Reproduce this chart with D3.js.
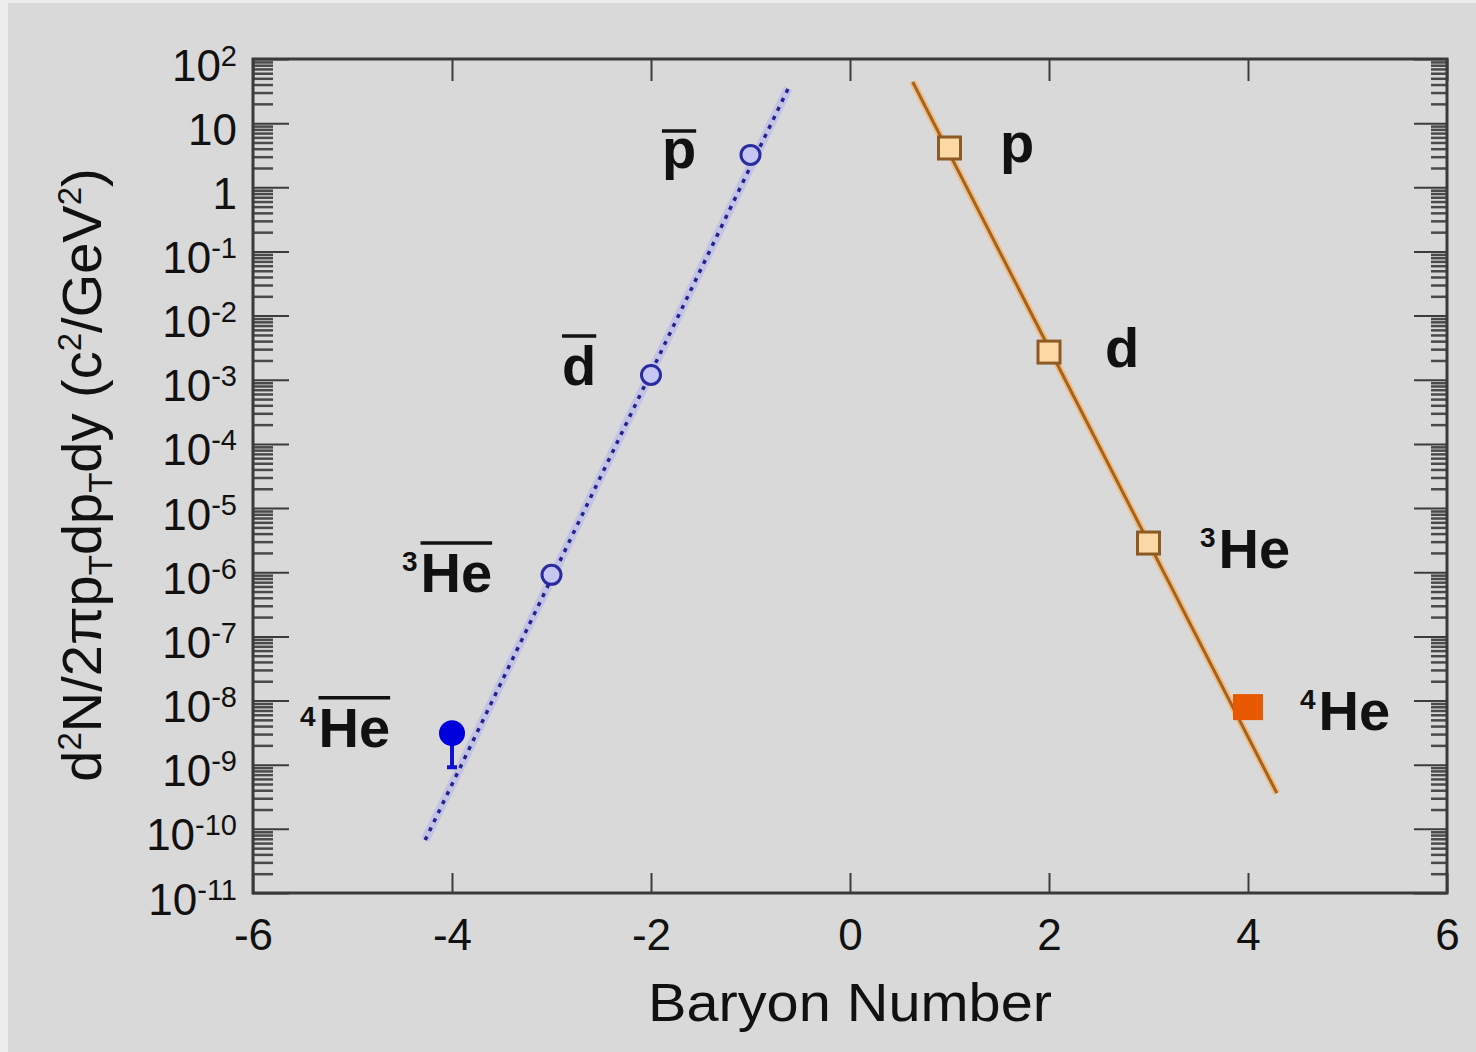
<!DOCTYPE html>
<meta charset="utf-8">
<title>Baryon Number</title>
<style>
body {
  margin: 0;
  background: #ededed;
}
svg text {
  font-family: 'Liberation Sans', Arial, Helvetica, sans-serif;
  fill: #111;
}
.axis path.domain {
  display: none;
}
.axis .tick line {
  stroke: #3c3c3c;
  stroke-width: 2;
}
.minor .tick line {
  stroke: #4a4a4a;
  stroke-width: 2.5;
}
.axis .tick text {
  font-size: 44px;
}
.plabel {
  font-weight: bold;
}
</style>
<body>
<svg width="1476" height="1052"></svg>
<script src="https://d3js.org/d3.v7.min.js"></script>
<script>
// values
var antiX = [-1, -2, -3];
var antiY = [3.2, 1.19e-3, 9.1e-7];
var antiHe4X = [-4];
var antiHe4Y = [3.1e-9];
var antiHe4Lo = [9.1e-10];

var matterX = [1, 2, 3];
var matterY = [4.1, 2.7e-3, 2.85e-6];
var matterHe4X = [4];
var matterHe4Y = [7.9e-9];

// fitted exponentials (end points)
var antiFitX = [-4.27, -0.62];
var antiFitY = [6.7e-11, 35];
var matterFitX = [0.63, 4.29];
var matterFitY = [44, 3.6e-10];

// particle names, baseline-left positions in data units
var labelSup  = ["", "", "3", "4", "", "", "3", "4"];
var labelMain = ["p", "d", "He", "He", "p", "d", "He", "He"];
var labelBar  = [true, true, true, true, false, false, false, false];
var labelX = [-1.89, -2.894, -4.503, -5.528, 1.508, 2.563, 3.518, 4.523];
var labelY = [2.0, 8.3e-4, 4.9e-7, 1.9e-9, 2.5, 1.6e-3, 1.17e-6, 3.5e-9];

var xTicks = [-6, -4, -2, 0, 2, 4, 6];
var yExp = d3.range(2, -12, -1);

var svg = d3.select("svg"),
    margin = {top: 59, left: 253},
    width = 1194,
    height = 834;

svg.append("rect")
  .attr("x", 8).attr("y", 3)
  .attr("width", 1468).attr("height", 1049)
  .attr("fill", "#d9d9d9");

var g = svg.append("g").attr("transform", "translate(" + margin.left + "," + margin.top + ")");

var x = d3.scaleLinear().domain([-6, 6]).range([0, width]);
var y = d3.scaleLog().domain([1e-11, 1e2]).range([height, 0]);

var majors = yExp.map(function(e) { return Math.pow(10, e); });
var minors = [];
yExp.slice(1).forEach(function(e) {
  for (var k = 2; k <= 9; k++) minors.push(k * Math.pow(10, e));
});

// minor y ticks, both sides
g.append("g").attr("class", "axis minor")
  .call(d3.axisLeft(y).tickValues(minors).tickSize(-20).tickSizeOuter(0).tickFormat(""));
g.append("g").attr("class", "axis minor")
  .attr("transform", "translate(" + width + ",0)")
  .call(d3.axisRight(y).tickValues(minors).tickSize(-16).tickSizeOuter(0).tickFormat(""));

// major y ticks with labels
var yAxis = g.append("g").attr("class", "axis")
  .call(d3.axisLeft(y).tickValues(majors).tickSize(-36).tickSizeOuter(0).tickPadding(16).tickFormat(""));
yAxis.selectAll(".tick text").each(function(d) {
  var e = Math.round(Math.log10(d));
  var t = d3.select(this).attr("dy", "21px");
  if (e === 0) { t.text("1"); return; }
  t.append("tspan").text("10");
  if (e !== 1) {
    t.append("tspan").attr("dy", -15).style("font-size", "29px").text(String(e));
  }
});
g.append("g").attr("class", "axis")
  .attr("transform", "translate(" + width + ",0)")
  .call(d3.axisRight(y).tickValues(majors).tickSize(-33).tickSizeOuter(0).tickFormat(""));

// x ticks
g.append("g").attr("class", "axis")
  .attr("transform", "translate(0," + height + ")")
  .call(d3.axisBottom(x).tickValues(xTicks).tickSize(-20).tickSizeOuter(0).tickPadding(26)
    .tickFormat(function(d) { return String(d); }));
g.append("g").attr("class", "axis")
  .call(d3.axisTop(x).tickValues(xTicks).tickSize(-22).tickSizeOuter(0).tickFormat(""));

// frame
g.append("rect")
  .attr("width", width).attr("height", height)
  .attr("fill", "none").attr("stroke", "#3a3a3a").attr("stroke-width", 3);

// axis titles
svg.append("text")
  .attr("x", margin.left + width / 2).attr("y", 1021)
  .attr("text-anchor", "middle")
  .attr("textLength", 404).attr("lengthAdjust", "spacingAndGlyphs")
  .style("font-size", "54px")
  .text("Baryon Number");

var yt = svg.append("text")
  .attr("transform", "translate(101," + (margin.top + 416) + ") rotate(-90)")
  .attr("text-anchor", "middle")
  .style("font-size", "56px");
yt.append("tspan").text("d");
yt.append("tspan").attr("dy", -20).style("font-size", "33px").text("2");
yt.append("tspan").attr("dy", 20).text("N/2πp");
yt.append("tspan").attr("dy", 11).style("font-size", "33px").text("T");
yt.append("tspan").attr("dy", -11).text("dp");
yt.append("tspan").attr("dy", 11).style("font-size", "33px").text("T");
yt.append("tspan").attr("dy", -11).text("dy (c");
yt.append("tspan").attr("dy", -20).style("font-size", "33px").text("2");
yt.append("tspan").attr("dy", 20).text("/GeV");
yt.append("tspan").attr("dy", -20).style("font-size", "33px").text("2");
yt.append("tspan").attr("dy", 20).text(")");

// fit lines
var line = d3.line()
  .x(function(d) { return x(d[0]); })
  .y(function(d) { return y(d[1]); });
var antiFit = d3.zip(antiFitX, antiFitY);
var matterFit = d3.zip(matterFitX, matterFitY);

g.append("path").attr("d", line(antiFit))
  .attr("fill", "none").attr("stroke", "#b4b4ee").attr("stroke-width", 9).attr("opacity", 0.6);
g.append("path").attr("d", line(antiFit))
  .attr("fill", "none").attr("stroke", "#23238c").attr("stroke-width", 3.5)
  .attr("stroke-dasharray", "4,6");

g.append("path").attr("d", line(matterFit))
  .attr("fill", "none").attr("stroke", "#f6b060").attr("stroke-width", 7).attr("opacity", 0.7);
g.append("path").attr("d", line(matterFit))
  .attr("fill", "none").attr("stroke", "#a5621e").attr("stroke-width", 3);

// antimatter points
g.selectAll(".anti").data(d3.zip(antiX, antiY)).enter().append("circle")
  .attr("class", "anti")
  .attr("cx", function(d) { return x(d[0]); })
  .attr("cy", function(d) { return y(d[1]); })
  .attr("r", 9.5)
  .attr("fill", "#c6c6f2").attr("stroke", "#2a2aa2").attr("stroke-width", 3);

var he4bar = d3.zip(antiHe4X, antiHe4Y, antiHe4Lo);
g.selectAll(".err").data(he4bar).enter().append("path")
  .attr("class", "err")
  .attr("d", function(d) {
    var cx = x(d[0]);
    return "M" + cx + "," + y(d[1]) + "V" + y(d[2]) + "M" + (cx - 5) + "," + y(d[2]) + "H" + (cx + 5);
  })
  .attr("stroke", "#1010d0").attr("stroke-width", 4).attr("fill", "none");
g.selectAll(".antiHe4").data(he4bar).enter().append("circle")
  .attr("class", "antiHe4")
  .attr("cx", function(d) { return x(d[0]); })
  .attr("cy", function(d) { return y(d[1]); })
  .attr("r", 13)
  .attr("fill", "#0000dc");

// matter points
g.selectAll(".matter").data(d3.zip(matterX, matterY)).enter().append("rect")
  .attr("class", "matter")
  .attr("x", function(d) { return x(d[0]) - 11; })
  .attr("y", function(d) { return y(d[1]) - 11; })
  .attr("width", 22).attr("height", 22)
  .attr("fill", "#fcd9a4").attr("stroke", "#8c5a22").attr("stroke-width", 3);
g.selectAll(".matterHe4").data(d3.zip(matterHe4X, matterHe4Y)).enter().append("rect")
  .attr("class", "matterHe4")
  .attr("x", function(d) { return x(d[0]) - 15; })
  .attr("y", function(d) { return y(d[1]) - 13; })
  .attr("width", 30).attr("height", 26)
  .attr("fill", "#e85800");

// particle names
labelMain.forEach(function(name, i) {
  var lg = g.append("g")
    .attr("transform", "translate(" + x(labelX[i]) + "," + y(labelY[i]) + ")");
  var off = 0;
  if (labelSup[i]) {
    var s = lg.append("text").attr("class", "plabel")
      .attr("y", -21).style("font-size", "28px").text(labelSup[i]);
    off = s.node().getComputedTextLength() + 3;
  }
  var m = lg.append("text").attr("class", "plabel")
    .attr("x", off).style("font-size", "56px").text(name);
  if (labelBar[i]) {
    var w = m.node().getComputedTextLength();
    var up = name === "p" ? 37 : 49;
    lg.append("line")
      .attr("x1", off).attr("x2", off + w)
      .attr("y1", -up).attr("y2", -up)
      .attr("stroke", "#111").attr("stroke-width", 3.5);
  }
});
</script>
</body>
